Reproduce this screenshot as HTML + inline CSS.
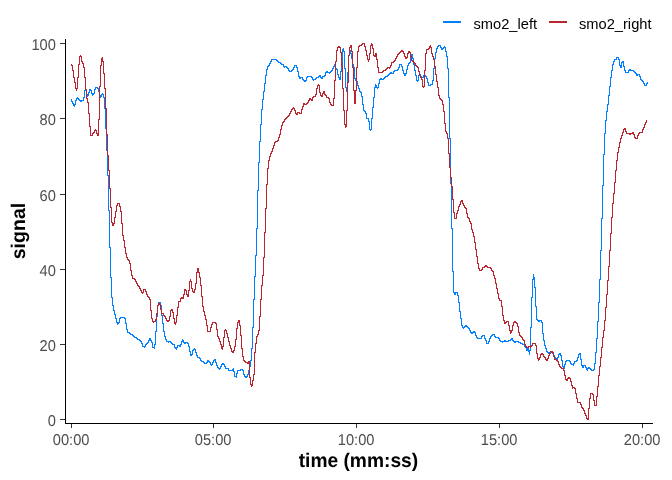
<!DOCTYPE html>
<html lang="en">
<head>
<meta charset="utf-8">
<title>smo2 signal plot</title>
<style>
html,body{margin:0;padding:0;background:#fff;}
body{width:672px;height:480px;overflow:hidden;}
svg{display:block;}
text{font-family:"Liberation Sans",Arial,Helvetica,sans-serif;}
.tick{font-size:14.67px;fill:#4d4d4d;text-rendering:geometricPrecision;}
.ttl{font-size:19.2px;font-weight:bold;fill:#000;text-rendering:geometricPrecision;}
.leg{font-size:14.67px;fill:#000;}
.ax{stroke:#000;stroke-width:1;shape-rendering:crispEdges;fill:none;}
.tk{stroke:#333;stroke-width:1;shape-rendering:crispEdges;fill:none;}
.ln{stroke:none;shape-rendering:crispEdges;}
</style>
</head>
<body>
<svg width="672" height="480" viewBox="0 0 672 480">
<rect width="672" height="480" fill="#fff"/>
<!-- legend -->
<line x1="443" y1="22" x2="461" y2="22" stroke="#0080ff" stroke-width="2" shape-rendering="crispEdges"/>
<text class="leg" x="473.5" y="28.5">smo2_left</text>
<line x1="549" y1="22" x2="567" y2="22" stroke="#ba2630" stroke-width="2" shape-rendering="crispEdges"/>
<text class="leg" x="579" y="28.5">smo2_right</text>
<!-- data -->
<path class="ln" fill="#0080ff" d="M71 99h1v3h-1zM72 101h1v3h-1zM73 103h1v3h-1zM74 104h1v3h-1zM75 100h1v5h-1zM76 98h1v3h-1zM77 97h1v2h-1zM78 98h1v2h-1zM79 99h1v2h-1zM80 100h1v2h-1zM81 100h1v2h-1zM82 100h1v1h-1zM83 97h1v4h-1zM84 90h1v8h-1zM85 89h1v2h-1zM86 89h1v6h-1zM87 94h1v3h-1zM88 92h1v4h-1zM89 89h1v4h-1zM90 89h1v2h-1zM91 90h1v4h-1zM92 93h1v3h-1zM93 93h1v2h-1zM94 89h1v5h-1zM95 87h1v3h-1zM96 87h1v1h-1zM97 87h1v2h-1zM98 88h1v4h-1zM99 91h1v5h-1zM100 95h1v3h-1zM101 94h1v3h-1zM102 93h1v2h-1zM103 94h1v4h-1zM104 97h1v12h-1zM105 108h1v21h-1zM106 128h1v23h-1zM107 150h1v26h-1zM108 175h1v36h-1zM109 210h1v38h-1zM110 247h1v31h-1zM111 277h1v21h-1zM112 297h1v9h-1zM113 305h1v6h-1zM114 310h1v5h-1zM115 314h1v5h-1zM116 318h1v5h-1zM117 322h1v3h-1zM118 322h1v2h-1zM119 318h1v5h-1zM120 317h1v2h-1zM121 317h1v1h-1zM122 317h1v1h-1zM123 317h1v1h-1zM124 317h1v2h-1zM125 318h1v6h-1zM126 323h1v7h-1zM127 329h1v4h-1zM128 332h1v1h-1zM129 332h1v2h-1zM130 333h1v2h-1zM131 334h1v1h-1zM132 334h1v2h-1zM133 335h1v2h-1zM134 336h1v2h-1zM135 337h1v1h-1zM136 337h1v2h-1zM137 338h1v2h-1zM138 339h1v1h-1zM139 339h1v2h-1zM140 340h1v2h-1zM141 341h1v3h-1zM142 343h1v4h-1zM143 346h1v1h-1zM144 346h1v2h-1zM145 344h1v3h-1zM146 343h1v2h-1zM147 342h1v2h-1zM148 340h1v3h-1zM149 338h1v3h-1zM150 338h1v3h-1zM151 340h1v3h-1zM152 342h1v6h-1zM153 347h1v1h-1zM154 344h1v5h-1zM155 331h1v14h-1zM156 316h1v16h-1zM157 305h1v12h-1zM158 302h1v4h-1zM159 302h1v1h-1zM160 302h1v4h-1zM161 305h1v11h-1zM162 315h1v9h-1zM163 323h1v9h-1zM164 331h1v6h-1zM165 336h1v4h-1zM166 339h1v3h-1zM167 341h1v1h-1zM168 341h1v2h-1zM169 341h1v1h-1zM170 341h1v2h-1zM171 342h1v2h-1zM172 343h1v2h-1zM173 344h1v1h-1zM174 344h1v4h-1zM175 347h1v2h-1zM176 347h1v3h-1zM177 345h1v3h-1zM178 345h1v1h-1zM179 345h1v2h-1zM180 344h1v3h-1zM181 341h1v4h-1zM182 339h1v3h-1zM183 340h1v3h-1zM184 342h1v2h-1zM185 342h1v2h-1zM186 342h1v1h-1zM187 342h1v2h-1zM188 343h1v4h-1zM189 346h1v6h-1zM190 351h1v5h-1zM191 354h1v2h-1zM192 350h1v5h-1zM193 349h1v2h-1zM194 348h1v2h-1zM195 349h1v4h-1zM196 352h1v4h-1zM197 355h1v3h-1zM198 357h1v1h-1zM199 357h1v2h-1zM200 358h1v3h-1zM201 360h1v2h-1zM202 361h1v1h-1zM203 361h1v2h-1zM204 362h1v2h-1zM205 363h1v1h-1zM206 362h1v2h-1zM207 360h1v3h-1zM208 360h1v2h-1zM209 361h1v2h-1zM210 362h1v3h-1zM211 364h1v2h-1zM212 362h1v3h-1zM213 360h1v3h-1zM214 359h1v2h-1zM215 359h1v4h-1zM216 362h1v4h-1zM217 365h1v3h-1zM218 367h1v2h-1zM219 368h1v2h-1zM220 366h1v3h-1zM221 364h1v3h-1zM222 363h1v2h-1zM223 363h1v2h-1zM224 364h1v3h-1zM225 366h1v3h-1zM226 368h1v1h-1zM227 368h1v1h-1zM228 368h1v3h-1zM229 370h1v1h-1zM230 370h1v1h-1zM231 370h1v1h-1zM232 369h1v2h-1zM233 368h1v4h-1zM234 371h1v6h-1zM235 376h1v1h-1zM236 373h1v5h-1zM237 370h1v4h-1zM238 370h1v1h-1zM239 370h1v1h-1zM240 369h1v2h-1zM241 369h1v1h-1zM242 369h1v2h-1zM243 370h1v5h-1zM244 374h1v3h-1zM245 376h1v2h-1zM246 376h1v2h-1zM247 374h1v3h-1zM248 370h1v5h-1zM249 366h1v5h-1zM250 360h1v7h-1zM251 348h1v13h-1zM252 327h1v22h-1zM253 299h1v29h-1zM254 276h1v24h-1zM255 255h1v22h-1zM256 228h1v28h-1zM257 190h1v39h-1zM258 162h1v29h-1zM259 141h1v22h-1zM260 124h1v18h-1zM261 109h1v16h-1zM262 99h1v11h-1zM263 91h1v9h-1zM264 83h1v9h-1zM265 75h1v9h-1zM266 69h1v7h-1zM267 66h1v4h-1zM268 65h1v2h-1zM269 63h1v3h-1zM270 61h1v3h-1zM271 59h1v3h-1zM272 59h1v1h-1zM273 59h1v1h-1zM274 59h1v1h-1zM275 59h1v1h-1zM276 59h1v2h-1zM277 60h1v2h-1zM278 61h1v2h-1zM279 62h1v1h-1zM280 62h1v2h-1zM281 63h1v2h-1zM282 64h1v1h-1zM283 64h1v3h-1zM284 66h1v2h-1zM285 66h1v1h-1zM286 66h1v2h-1zM287 67h1v2h-1zM288 68h1v3h-1zM289 70h1v2h-1zM290 71h1v1h-1zM291 70h1v2h-1zM292 69h1v2h-1zM293 67h1v3h-1zM294 65h1v3h-1zM295 65h1v1h-1zM296 65h1v3h-1zM297 67h1v5h-1zM298 71h1v6h-1zM299 76h1v3h-1zM300 77h1v2h-1zM301 77h1v1h-1zM302 77h1v3h-1zM303 79h1v2h-1zM304 80h1v2h-1zM305 80h1v2h-1zM306 77h1v4h-1zM307 76h1v2h-1zM308 76h1v1h-1zM309 76h1v1h-1zM310 76h1v1h-1zM311 76h1v2h-1zM312 77h1v3h-1zM313 79h1v2h-1zM314 79h1v1h-1zM315 78h1v2h-1zM316 77h1v2h-1zM317 77h1v1h-1zM318 76h1v2h-1zM319 75h1v2h-1zM320 75h1v3h-1zM321 77h1v2h-1zM322 76h1v3h-1zM323 76h1v1h-1zM324 75h1v2h-1zM325 72h1v4h-1zM326 71h1v2h-1zM327 71h1v2h-1zM328 72h1v1h-1zM329 72h1v2h-1zM330 71h1v2h-1zM331 70h1v2h-1zM332 68h1v3h-1zM333 66h1v3h-1zM334 64h1v3h-1zM335 65h1v4h-1zM336 68h1v2h-1zM337 69h1v6h-1zM338 74h1v4h-1zM339 77h1v3h-1zM340 71h1v9h-1zM341 66h1v6h-1zM342 49h1v18h-1zM343 48h1v4h-1zM344 51h1v18h-1zM345 68h1v20h-1zM346 87h1v5h-1zM347 72h1v20h-1zM348 55h1v18h-1zM349 50h1v6h-1zM350 50h1v4h-1zM351 53h1v6h-1zM352 58h1v7h-1zM353 64h1v4h-1zM354 67h1v12h-1zM355 78h1v3h-1zM356 80h1v2h-1zM357 81h1v5h-1zM358 85h1v4h-1zM359 88h1v4h-1zM360 91h1v2h-1zM361 92h1v5h-1zM362 96h1v9h-1zM363 104h1v7h-1zM364 110h1v2h-1zM365 111h1v3h-1zM366 113h1v6h-1zM367 118h1v1h-1zM368 118h1v4h-1zM369 121h1v9h-1zM370 129h1v2h-1zM371 118h1v12h-1zM372 107h1v12h-1zM373 97h1v11h-1zM374 87h1v11h-1zM375 84h1v4h-1zM376 85h1v3h-1zM377 87h1v2h-1zM378 83h1v5h-1zM379 79h1v5h-1zM380 78h1v2h-1zM381 78h1v2h-1zM382 79h1v1h-1zM383 78h1v2h-1zM384 77h1v2h-1zM385 76h1v2h-1zM386 76h1v1h-1zM387 75h1v2h-1zM388 74h1v2h-1zM389 73h1v2h-1zM390 72h1v2h-1zM391 72h1v2h-1zM392 73h1v1h-1zM393 71h1v3h-1zM394 70h1v2h-1zM395 70h1v1h-1zM396 70h1v1h-1zM397 69h1v2h-1zM398 67h1v3h-1zM399 64h1v4h-1zM400 64h1v1h-1zM401 64h1v3h-1zM402 66h1v5h-1zM403 70h1v4h-1zM404 73h1v3h-1zM405 73h1v3h-1zM406 69h1v5h-1zM407 65h1v5h-1zM408 63h1v3h-1zM409 62h1v2h-1zM410 57h1v6h-1zM411 54h1v4h-1zM412 54h1v5h-1zM413 58h1v7h-1zM414 64h1v7h-1zM415 70h1v6h-1zM416 75h1v6h-1zM417 80h1v2h-1zM418 75h1v6h-1zM419 74h1v2h-1zM420 74h1v3h-1zM421 76h1v2h-1zM422 77h1v1h-1zM423 75h1v3h-1zM424 75h1v1h-1zM425 75h1v2h-1zM426 76h1v3h-1zM427 78h1v5h-1zM428 82h1v4h-1zM429 85h1v1h-1zM430 84h1v2h-1zM431 84h1v1h-1zM432 80h1v5h-1zM433 68h1v13h-1zM434 58h1v11h-1zM435 52h1v7h-1zM436 48h1v5h-1zM437 46h1v3h-1zM438 45h1v2h-1zM439 45h1v1h-1zM440 45h1v3h-1zM441 47h1v3h-1zM442 48h1v2h-1zM443 47h1v2h-1zM444 46h1v2h-1zM445 47h1v5h-1zM446 51h1v6h-1zM447 56h1v13h-1zM448 68h1v30h-1zM449 97h1v42h-1zM450 138h1v46h-1zM451 183h1v46h-1zM452 228h1v44h-1zM453 271h1v22h-1zM454 292h1v3h-1zM455 292h1v3h-1zM456 292h1v1h-1zM457 292h1v4h-1zM458 295h1v8h-1zM459 302h1v10h-1zM460 311h1v8h-1zM461 318h1v8h-1zM462 325h1v3h-1zM463 327h1v2h-1zM464 326h1v2h-1zM465 325h1v2h-1zM466 325h1v2h-1zM467 326h1v2h-1zM468 327h1v2h-1zM469 328h1v3h-1zM470 330h1v3h-1zM471 332h1v2h-1zM472 332h1v2h-1zM473 331h1v2h-1zM474 331h1v2h-1zM475 332h1v4h-1zM476 335h1v3h-1zM477 337h1v2h-1zM478 338h1v1h-1zM479 338h1v1h-1zM480 338h1v1h-1zM481 336h1v3h-1zM482 335h1v2h-1zM483 335h1v1h-1zM484 335h1v4h-1zM485 338h1v3h-1zM486 340h1v4h-1zM487 343h1v1h-1zM488 341h1v3h-1zM489 338h1v4h-1zM490 336h1v3h-1zM491 335h1v2h-1zM492 334h1v2h-1zM493 334h1v1h-1zM494 334h1v3h-1zM495 336h1v2h-1zM496 337h1v1h-1zM497 337h1v1h-1zM498 337h1v2h-1zM499 338h1v3h-1zM500 340h1v2h-1zM501 341h1v1h-1zM502 341h1v2h-1zM503 341h1v1h-1zM504 340h1v2h-1zM505 340h1v2h-1zM506 341h1v1h-1zM507 341h1v1h-1zM508 340h1v2h-1zM509 340h1v1h-1zM510 339h1v2h-1zM511 338h1v2h-1zM512 338h1v3h-1zM513 340h1v2h-1zM514 341h1v2h-1zM515 341h1v2h-1zM516 341h1v1h-1zM517 341h1v1h-1zM518 341h1v2h-1zM519 342h1v1h-1zM520 342h1v2h-1zM521 343h1v1h-1zM522 343h1v2h-1zM523 344h1v1h-1zM524 344h1v3h-1zM525 346h1v2h-1zM526 347h1v4h-1zM527 347h1v4h-1zM528 347h1v5h-1zM529 350h1v5h-1zM530 327h1v24h-1zM531 297h1v31h-1zM532 279h1v19h-1zM533 274h1v6h-1zM534 277h1v11h-1zM535 287h1v20h-1zM536 306h1v14h-1zM537 319h1v2h-1zM538 320h1v2h-1zM539 320h1v2h-1zM540 320h1v1h-1zM541 320h1v3h-1zM542 322h1v12h-1zM543 333h1v8h-1zM544 340h1v6h-1zM545 345h1v4h-1zM546 348h1v4h-1zM547 351h1v2h-1zM548 352h1v2h-1zM549 352h1v2h-1zM550 352h1v1h-1zM551 352h1v1h-1zM552 352h1v2h-1zM553 353h1v3h-1zM554 355h1v3h-1zM555 357h1v2h-1zM556 358h1v2h-1zM557 357h1v3h-1zM558 354h1v4h-1zM559 353h1v2h-1zM560 353h1v3h-1zM561 355h1v6h-1zM562 360h1v7h-1zM563 366h1v2h-1zM564 364h1v5h-1zM565 361h1v4h-1zM566 360h1v2h-1zM567 360h1v1h-1zM568 360h1v1h-1zM569 360h1v2h-1zM570 361h1v3h-1zM571 363h1v2h-1zM572 364h1v1h-1zM573 363h1v3h-1zM574 361h1v3h-1zM575 361h1v1h-1zM576 360h1v2h-1zM577 357h1v4h-1zM578 354h1v4h-1zM579 353h1v2h-1zM580 353h1v7h-1zM581 359h1v7h-1zM582 365h1v3h-1zM583 365h1v3h-1zM584 365h1v1h-1zM585 365h1v3h-1zM586 367h1v3h-1zM587 368h1v3h-1zM588 367h1v2h-1zM589 367h1v2h-1zM590 368h1v2h-1zM591 369h1v2h-1zM592 370h1v1h-1zM593 369h1v2h-1zM594 363h1v7h-1zM595 352h1v12h-1zM596 338h1v15h-1zM597 321h1v18h-1zM598 302h1v20h-1zM599 279h1v24h-1zM600 250h1v30h-1zM601 218h1v33h-1zM602 185h1v34h-1zM603 154h1v32h-1zM604 133h1v22h-1zM605 120h1v14h-1zM606 111h1v10h-1zM607 104h1v8h-1zM608 95h1v10h-1zM609 86h1v10h-1zM610 77h1v10h-1zM611 70h1v8h-1zM612 64h1v7h-1zM613 61h1v4h-1zM614 59h1v3h-1zM615 59h1v1h-1zM616 57h1v3h-1zM617 57h1v1h-1zM618 57h1v3h-1zM619 59h1v7h-1zM620 65h1v3h-1zM621 62h1v6h-1zM622 61h1v2h-1zM623 61h1v6h-1zM624 66h1v5h-1zM625 70h1v3h-1zM626 72h1v1h-1zM627 72h1v1h-1zM628 70h1v3h-1zM629 69h1v2h-1zM630 69h1v2h-1zM631 70h1v1h-1zM632 70h1v1h-1zM633 70h1v2h-1zM634 71h1v2h-1zM635 72h1v2h-1zM636 73h1v3h-1zM637 74h1v2h-1zM638 74h1v1h-1zM639 74h1v3h-1zM640 76h1v4h-1zM641 79h1v2h-1zM642 80h1v2h-1zM643 81h1v3h-1zM644 83h1v3h-1zM645 85h1v1h-1zM646 83h1v3h-1zM647 82h1v2h-1z"/>
<path class="ln" fill="#ba2630" d="M71 64h1v2h-1zM72 65h1v6h-1zM73 70h1v8h-1zM74 77h1v6h-1zM75 82h1v7h-1zM76 88h1v3h-1zM77 77h1v12h-1zM78 64h1v14h-1zM79 56h1v9h-1zM80 55h1v2h-1zM81 56h1v6h-1zM82 61h1v3h-1zM83 63h1v5h-1zM84 67h1v11h-1zM85 77h1v13h-1zM86 89h1v10h-1zM87 98h1v5h-1zM88 102h1v12h-1zM89 113h1v14h-1zM90 126h1v10h-1zM91 135h1v1h-1zM92 133h1v3h-1zM93 132h1v2h-1zM94 130h1v3h-1zM95 129h1v2h-1zM96 130h1v4h-1zM97 133h1v3h-1zM98 119h1v17h-1zM99 86h1v34h-1zM100 65h1v22h-1zM101 58h1v8h-1zM102 57h1v5h-1zM103 61h1v13h-1zM104 73h1v16h-1zM105 88h1v21h-1zM106 108h1v27h-1zM107 134h1v22h-1zM108 155h1v16h-1zM109 170h1v19h-1zM110 188h1v20h-1zM111 207h1v16h-1zM112 222h1v4h-1zM113 223h1v3h-1zM114 217h1v7h-1zM115 211h1v7h-1zM116 205h1v7h-1zM117 203h1v3h-1zM118 203h1v1h-1zM119 203h1v4h-1zM120 206h1v6h-1zM121 211h1v13h-1zM122 223h1v13h-1zM123 235h1v6h-1zM124 240h1v8h-1zM125 247h1v7h-1zM126 253h1v5h-1zM127 257h1v3h-1zM128 259h1v2h-1zM129 260h1v4h-1zM130 263h1v8h-1zM131 270h1v6h-1zM132 275h1v4h-1zM133 278h1v1h-1zM134 278h1v2h-1zM135 279h1v3h-1zM136 281h1v3h-1zM137 283h1v3h-1zM138 285h1v2h-1zM139 286h1v3h-1zM140 288h1v3h-1zM141 290h1v3h-1zM142 292h1v2h-1zM143 289h1v4h-1zM144 289h1v1h-1zM145 289h1v3h-1zM146 291h1v4h-1zM147 294h1v3h-1zM148 296h1v2h-1zM149 297h1v3h-1zM150 299h1v12h-1zM151 310h1v9h-1zM152 318h1v4h-1zM153 321h1v2h-1zM154 321h1v1h-1zM155 319h1v3h-1zM156 313h1v7h-1zM157 305h1v9h-1zM158 303h1v3h-1zM159 303h1v2h-1zM160 304h1v6h-1zM161 309h1v5h-1zM162 313h1v1h-1zM163 313h1v3h-1zM164 315h1v2h-1zM165 316h1v3h-1zM166 318h1v3h-1zM167 320h1v2h-1zM168 320h1v2h-1zM169 316h1v5h-1zM170 310h1v7h-1zM171 309h1v2h-1zM172 309h1v4h-1zM173 312h1v7h-1zM174 318h1v6h-1zM175 322h1v3h-1zM176 315h1v8h-1zM177 307h1v9h-1zM178 301h1v7h-1zM179 301h1v1h-1zM180 298h1v4h-1zM181 297h1v2h-1zM182 297h1v2h-1zM183 294h1v5h-1zM184 289h1v6h-1zM185 289h1v2h-1zM186 290h1v5h-1zM187 294h1v3h-1zM188 290h1v7h-1zM189 281h1v10h-1zM190 279h1v3h-1zM191 281h1v8h-1zM192 288h1v4h-1zM193 291h1v2h-1zM194 289h1v4h-1zM195 283h1v7h-1zM196 272h1v12h-1zM197 268h1v5h-1zM198 268h1v5h-1zM199 272h1v6h-1zM200 277h1v9h-1zM201 285h1v12h-1zM202 296h1v11h-1zM203 306h1v6h-1zM204 311h1v5h-1zM205 315h1v5h-1zM206 319h1v7h-1zM207 325h1v7h-1zM208 331h1v1h-1zM209 331h1v1h-1zM210 327h1v5h-1zM211 324h1v4h-1zM212 322h1v3h-1zM213 322h1v1h-1zM214 322h1v1h-1zM215 322h1v2h-1zM216 323h1v7h-1zM217 329h1v8h-1zM218 336h1v3h-1zM219 338h1v4h-1zM220 341h1v4h-1zM221 344h1v5h-1zM222 346h1v4h-1zM223 337h1v10h-1zM224 330h1v8h-1zM225 329h1v2h-1zM226 330h1v4h-1zM227 333h1v5h-1zM228 337h1v5h-1zM229 341h1v5h-1zM230 345h1v4h-1zM231 348h1v4h-1zM232 351h1v2h-1zM233 350h1v3h-1zM234 346h1v5h-1zM235 339h1v8h-1zM236 328h1v12h-1zM237 322h1v7h-1zM238 320h1v3h-1zM239 320h1v6h-1zM240 325h1v11h-1zM241 335h1v14h-1zM242 348h1v9h-1zM243 356h1v5h-1zM244 360h1v2h-1zM245 361h1v2h-1zM246 362h1v1h-1zM247 362h1v2h-1zM248 361h1v3h-1zM249 361h1v17h-1zM250 377h1v8h-1zM251 384h1v3h-1zM252 380h1v6h-1zM253 374h1v7h-1zM254 352h1v23h-1zM255 343h1v10h-1zM256 336h1v8h-1zM257 334h1v3h-1zM258 330h1v5h-1zM259 316h1v15h-1zM260 299h1v18h-1zM261 285h1v15h-1zM262 275h1v11h-1zM263 257h1v19h-1zM264 232h1v26h-1zM265 208h1v25h-1zM266 184h1v25h-1zM267 168h1v17h-1zM268 160h1v9h-1zM269 156h1v5h-1zM270 153h1v4h-1zM271 151h1v3h-1zM272 148h1v4h-1zM273 145h1v4h-1zM274 142h1v4h-1zM275 141h1v2h-1zM276 141h1v1h-1zM277 140h1v2h-1zM278 137h1v4h-1zM279 134h1v4h-1zM280 129h1v6h-1zM281 125h1v5h-1zM282 122h1v4h-1zM283 121h1v2h-1zM284 119h1v3h-1zM285 118h1v2h-1zM286 117h1v2h-1zM287 116h1v2h-1zM288 115h1v2h-1zM289 113h1v3h-1zM290 111h1v3h-1zM291 109h1v3h-1zM292 108h1v2h-1zM293 107h1v2h-1zM294 108h1v3h-1zM295 110h1v4h-1zM296 113h1v2h-1zM297 112h1v3h-1zM298 112h1v1h-1zM299 112h1v2h-1zM300 113h1v1h-1zM301 109h1v5h-1zM302 106h1v4h-1zM303 103h1v4h-1zM304 103h1v2h-1zM305 104h1v1h-1zM306 103h1v2h-1zM307 102h1v2h-1zM308 100h1v3h-1zM309 98h1v3h-1zM310 98h1v2h-1zM311 99h1v2h-1zM312 97h1v4h-1zM313 96h1v2h-1zM314 96h1v1h-1zM315 94h1v3h-1zM316 88h1v7h-1zM317 85h1v4h-1zM318 84h1v2h-1zM319 85h1v8h-1zM320 92h1v4h-1zM321 95h1v2h-1zM322 93h1v4h-1zM323 91h1v3h-1zM324 91h1v4h-1zM325 94h1v2h-1zM326 95h1v3h-1zM327 97h1v1h-1zM328 97h1v2h-1zM329 98h1v5h-1zM330 102h1v3h-1zM331 104h1v2h-1zM332 105h1v1h-1zM333 98h1v8h-1zM334 80h1v19h-1zM335 61h1v20h-1zM336 50h1v12h-1zM337 47h1v4h-1zM338 46h1v2h-1zM339 46h1v2h-1zM340 47h1v6h-1zM341 52h1v15h-1zM342 66h1v23h-1zM343 88h1v23h-1zM344 110h1v15h-1zM345 124h1v4h-1zM346 110h1v17h-1zM347 82h1v29h-1zM348 55h1v28h-1zM349 47h1v9h-1zM350 45h1v3h-1zM351 45h1v7h-1zM352 51h1v17h-1zM353 67h1v24h-1zM354 90h1v14h-1zM355 90h1v14h-1zM356 67h1v24h-1zM357 51h1v17h-1zM358 46h1v6h-1zM359 45h1v2h-1zM360 45h1v1h-1zM361 44h1v2h-1zM362 43h1v2h-1zM363 43h1v1h-1zM364 43h1v4h-1zM365 46h1v5h-1zM366 50h1v6h-1zM367 55h1v5h-1zM368 59h1v3h-1zM369 53h1v7h-1zM370 45h1v9h-1zM371 43h1v3h-1zM372 44h1v5h-1zM373 48h1v8h-1zM374 55h1v2h-1zM375 53h1v4h-1zM376 53h1v7h-1zM377 59h1v9h-1zM378 67h1v6h-1zM379 72h1v1h-1zM380 72h1v1h-1zM381 72h1v1h-1zM382 71h1v2h-1zM383 70h1v2h-1zM384 70h1v1h-1zM385 69h1v2h-1zM386 68h1v2h-1zM387 67h1v2h-1zM388 67h1v1h-1zM389 67h1v2h-1zM390 65h1v3h-1zM391 62h1v4h-1zM392 62h1v1h-1zM393 61h1v2h-1zM394 60h1v2h-1zM395 58h1v3h-1zM396 56h1v3h-1zM397 54h1v3h-1zM398 53h1v2h-1zM399 52h1v2h-1zM400 51h1v2h-1zM401 50h1v2h-1zM402 50h1v2h-1zM403 51h1v3h-1zM404 53h1v4h-1zM405 56h1v3h-1zM406 57h1v2h-1zM407 53h1v5h-1zM408 51h1v3h-1zM409 51h1v2h-1zM410 52h1v5h-1zM411 56h1v5h-1zM412 60h1v2h-1zM413 61h1v2h-1zM414 62h1v2h-1zM415 63h1v3h-1zM416 65h1v2h-1zM417 66h1v2h-1zM418 67h1v5h-1zM419 71h1v5h-1zM420 75h1v3h-1zM421 77h1v3h-1zM422 79h1v8h-1zM423 86h1v2h-1zM424 70h1v17h-1zM425 53h1v18h-1zM426 49h1v5h-1zM427 49h1v1h-1zM428 48h1v2h-1zM429 46h1v3h-1zM430 45h1v3h-1zM431 47h1v7h-1zM432 53h1v4h-1zM433 56h1v4h-1zM434 59h1v8h-1zM435 66h1v9h-1zM436 74h1v8h-1zM437 81h1v7h-1zM438 87h1v9h-1zM439 95h1v4h-1zM440 98h1v2h-1zM441 99h1v2h-1zM442 100h1v5h-1zM443 104h1v8h-1zM444 111h1v13h-1zM445 123h1v9h-1zM446 131h1v3h-1zM447 133h1v6h-1zM448 138h1v16h-1zM449 153h1v15h-1zM450 167h1v11h-1zM451 177h1v10h-1zM452 186h1v14h-1zM453 199h1v14h-1zM454 212h1v7h-1zM455 218h1v1h-1zM456 213h1v6h-1zM457 210h1v4h-1zM458 206h1v5h-1zM459 204h1v3h-1zM460 201h1v4h-1zM461 200h1v2h-1zM462 200h1v4h-1zM463 203h1v3h-1zM464 205h1v3h-1zM465 207h1v2h-1zM466 208h1v6h-1zM467 213h1v5h-1zM468 217h1v2h-1zM469 218h1v4h-1zM470 221h1v3h-1zM471 223h1v7h-1zM472 229h1v4h-1zM473 232h1v5h-1zM474 236h1v7h-1zM475 242h1v8h-1zM476 249h1v8h-1zM477 256h1v8h-1zM478 263h1v6h-1zM479 268h1v3h-1zM480 270h1v1h-1zM481 269h1v2h-1zM482 267h1v3h-1zM483 267h1v1h-1zM484 266h1v2h-1zM485 265h1v2h-1zM486 265h1v2h-1zM487 266h1v2h-1zM488 267h1v1h-1zM489 267h1v1h-1zM490 267h1v2h-1zM491 268h1v3h-1zM492 270h1v2h-1zM493 271h1v5h-1zM494 275h1v4h-1zM495 278h1v6h-1zM496 283h1v6h-1zM497 288h1v6h-1zM498 293h1v6h-1zM499 298h1v3h-1zM500 300h1v1h-1zM501 300h1v7h-1zM502 306h1v10h-1zM503 315h1v6h-1zM504 320h1v4h-1zM505 322h1v2h-1zM506 321h1v2h-1zM507 321h1v1h-1zM508 321h1v5h-1zM509 325h1v6h-1zM510 330h1v4h-1zM511 330h1v3h-1zM512 325h1v6h-1zM513 322h1v4h-1zM514 321h1v2h-1zM515 321h1v2h-1zM516 322h1v2h-1zM517 323h1v4h-1zM518 326h1v7h-1zM519 332h1v4h-1zM520 335h1v2h-1zM521 336h1v2h-1zM522 337h1v3h-1zM523 339h1v2h-1zM524 340h1v5h-1zM525 344h1v3h-1zM526 346h1v2h-1zM527 347h1v1h-1zM528 346h1v2h-1zM529 346h1v1h-1zM530 346h1v2h-1zM531 345h1v2h-1zM532 343h1v3h-1zM533 343h1v1h-1zM534 343h1v1h-1zM535 343h1v3h-1zM536 345h1v9h-1zM537 353h1v6h-1zM538 358h1v3h-1zM539 357h1v3h-1zM540 354h1v4h-1zM541 353h1v2h-1zM542 353h1v2h-1zM543 354h1v3h-1zM544 356h1v2h-1zM545 357h1v3h-1zM546 359h1v2h-1zM547 358h1v3h-1zM548 355h1v4h-1zM549 353h1v3h-1zM550 351h1v3h-1zM551 351h1v1h-1zM552 351h1v2h-1zM553 352h1v5h-1zM554 356h1v4h-1zM555 359h1v1h-1zM556 359h1v2h-1zM557 360h1v2h-1zM558 361h1v4h-1zM559 364h1v3h-1zM560 366h1v2h-1zM561 367h1v2h-1zM562 368h1v1h-1zM563 368h1v3h-1zM564 370h1v6h-1zM565 375h1v5h-1zM566 379h1v2h-1zM567 378h1v3h-1zM568 377h1v2h-1zM569 377h1v2h-1zM570 378h1v4h-1zM571 381h1v5h-1zM572 385h1v4h-1zM573 387h1v1h-1zM574 387h1v2h-1zM575 388h1v6h-1zM576 393h1v6h-1zM577 398h1v5h-1zM578 402h1v1h-1zM579 402h1v1h-1zM580 402h1v3h-1zM581 404h1v4h-1zM582 407h1v2h-1zM583 408h1v3h-1zM584 410h1v4h-1zM585 413h1v3h-1zM586 415h1v4h-1zM587 418h1v2h-1zM588 408h1v12h-1zM589 398h1v11h-1zM590 393h1v6h-1zM591 393h1v1h-1zM592 393h1v2h-1zM593 394h1v7h-1zM594 400h1v6h-1zM595 405h1v1h-1zM596 396h1v10h-1zM597 386h1v11h-1zM598 375h1v12h-1zM599 366h1v10h-1zM600 357h1v10h-1zM601 347h1v11h-1zM602 337h1v11h-1zM603 330h1v8h-1zM604 320h1v11h-1zM605 307h1v14h-1zM606 294h1v14h-1zM607 280h1v15h-1zM608 266h1v15h-1zM609 250h1v17h-1zM610 233h1v18h-1zM611 217h1v17h-1zM612 203h1v15h-1zM613 193h1v11h-1zM614 182h1v12h-1zM615 170h1v13h-1zM616 160h1v11h-1zM617 152h1v9h-1zM618 147h1v6h-1zM619 142h1v6h-1zM620 138h1v5h-1zM621 135h1v4h-1zM622 132h1v4h-1zM623 129h1v4h-1zM624 128h1v2h-1zM625 128h1v4h-1zM626 131h1v3h-1zM627 133h1v1h-1zM628 133h1v1h-1zM629 133h1v2h-1zM630 133h1v2h-1zM631 133h1v1h-1zM632 132h1v2h-1zM633 132h1v3h-1zM634 134h1v4h-1zM635 137h1v2h-1zM636 138h1v1h-1zM637 135h1v4h-1zM638 133h1v3h-1zM639 132h1v2h-1zM640 132h1v1h-1zM641 132h1v1h-1zM642 129h1v4h-1zM643 127h1v3h-1zM644 124h1v4h-1zM645 122h1v3h-1zM646 120h1v3h-1z"/>
<!-- axes -->
<line class="ax" x1="65.5" y1="39" x2="65.5" y2="424"/>
<line class="ax" x1="65" y1="423.5" x2="653" y2="423.5"/>
<!-- y ticks -->
<g class="tk">
<line x1="60" y1="419.5" x2="65" y2="419.5"/>
<line x1="60" y1="344.5" x2="65" y2="344.5"/>
<line x1="60" y1="269.5" x2="65" y2="269.5"/>
<line x1="60" y1="194.5" x2="65" y2="194.5"/>
<line x1="60" y1="118.5" x2="65" y2="118.5"/>
<line x1="60" y1="43.5" x2="65" y2="43.5"/>
<line x1="71.5" y1="424" x2="71.5" y2="428"/>
<line x1="213.5" y1="424" x2="213.5" y2="428"/>
<line x1="356.5" y1="424" x2="356.5" y2="428"/>
<line x1="499.5" y1="424" x2="499.5" y2="428"/>
<line x1="642.5" y1="424" x2="642.5" y2="428"/>
</g>
<g class="tick" text-anchor="end">
<text transform="translate(55.9,426) scale(1,1.07)">0</text>
<text transform="translate(55.9,351) scale(1,1.07)">20</text>
<text transform="translate(55.9,276) scale(1,1.07)">40</text>
<text transform="translate(55.9,201) scale(1,1.07)">60</text>
<text transform="translate(55.9,125) scale(1,1.07)">80</text>
<text transform="translate(55.9,50) scale(1,1.07)">100</text>
</g>
<g class="tick" text-anchor="middle">
<text transform="translate(71.1,445) scale(1,1.07)">00:00</text>
<text transform="translate(213.1,445) scale(1,1.07)">05:00</text>
<text transform="translate(356.1,445) scale(1,1.07)">10:00</text>
<text transform="translate(499.1,445) scale(1,1.07)">15:00</text>
<text transform="translate(642.1,445) scale(1,1.07)">20:00</text>
</g>
<text class="ttl" text-anchor="middle" transform="translate(358.4,467) scale(1,1.03)">time (mm:ss)</text>
<text class="ttl" text-anchor="middle" transform="translate(25.1,231) rotate(-90) scale(1.02,1.03)">signal</text>
</svg>
</body>
</html>
